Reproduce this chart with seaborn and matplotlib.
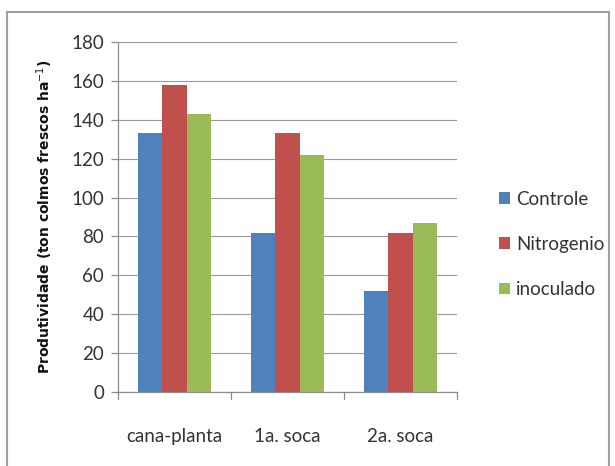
import matplotlib
matplotlib.use("Agg")
import matplotlib.pyplot as plt
import seaborn as sns
import pandas as pd
from matplotlib.patches import Rectangle, Patch

categories = ["cana-planta", "1a. soca", "2a. soca"]
series = ["Controle", "Nitrogenio", "inoculado"]
controle = [133, 82, 52]
nitrogenio = [158, 133, 82]
inoculado = [143, 122, 87]
colors = ["#4F81BD", "#C0504D", "#9BBB59"]
yticks = [0, 20, 40, 60, 80, 100, 120, 140, 160, 180]

rows = []
for s, vals in zip(series, [controle, nitrogenio, inoculado]):
    for c, v in zip(categories, vals):
        rows.append({"cat": c, "serie": s, "val": v})
df = pd.DataFrame(rows)

sns.set_theme(style="white")
plt.rcParams["font.family"] = ["Lato", "DejaVu Sans"]

W, H = 615, 466
fig = plt.figure(figsize=(W / 100, H / 100), dpi=100)
ax = fig.add_axes([118 / W, 1 - 392 / H, (457 - 118) / W, (392 - 42) / H])

sns.barplot(data=df, x="cat", y="val", hue="serie", palette=colors,
            width=0.65, gap=0, saturation=1, ax=ax, legend=False,
            linewidth=0, edgecolor="none")

ax.set_ylim(0, 180)
ax.set_xlim(-0.5, 2.5)
ax.set_yticks(yticks)
ax.set_yticklabels([str(t) for t in yticks], fontsize=13.5, color="#333333")
ax.set_xticks(range(len(categories)))
ax.set_xticklabels(categories, fontsize=13.5, color="#333333")
ax.yaxis.grid(True, color="#9a9a9a", linewidth=0.8)
ax.set_axisbelow(True)
for side in ["top", "right"]:
    ax.spines[side].set_visible(False)
for side in ["left", "bottom"]:
    ax.spines[side].set_color("#8c8c8c")
    ax.spines[side].set_linewidth(0.9)
ax.tick_params(axis="y", length=5, color="#8c8c8c", width=0.9, pad=5, left=True)
ax.tick_params(axis="x", length=0, pad=26)
for xb in [-0.5, 0.5, 1.5, 2.5]:
    ax.plot([xb, xb], [0, -0.02], transform=ax.get_xaxis_transform(),
            color="#8c8c8c", linewidth=0.9, clip_on=False)

ax.set_xlabel("")
ax.set_ylabel("Produtividade (ton colmos frescos ha$^{-1}$)", fontsize=10,
              fontweight="bold", color="#111111", family="DejaVu Sans")
ax.yaxis.set_label_coords(-63 / (457 - 118), 0.50)

handles = [Patch(facecolor=c, edgecolor="none") for c in colors]
fig.legend(handles, series, loc="upper left",
           bbox_to_anchor=(482 / W, 1 - 174 / H), frameon=False,
           fontsize=13.5, handlelength=0.6, handleheight=0.6,
           handletextpad=0.3, labelspacing=1.5, labelcolor="#333333")

fig.patches.append(Rectangle((7 / W, -0.01), (609 - 7) / W, 1 - 12 / H + 0.01,
                             transform=fig.transFigure, fill=False,
                             edgecolor="#a0a0a0", linewidth=1.5))

fig.savefig("out.png", dpi=100)
